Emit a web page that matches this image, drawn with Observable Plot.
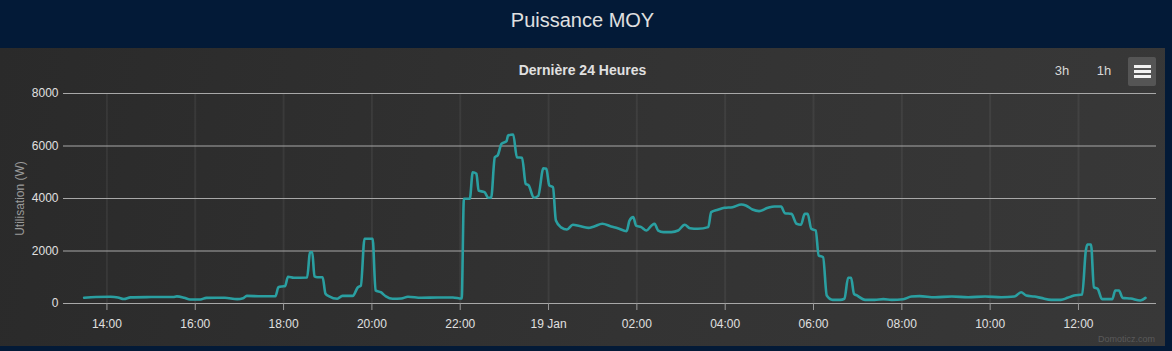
<!DOCTYPE html>
<html><head><meta charset="utf-8">
<script src="https://cdn.jsdelivr.net/npm/d3@7"></script>
<script src="https://cdn.jsdelivr.net/npm/@observablehq/plot@0.6"></script>
<style>
html,body{margin:0;padding:0;}
body{width:1172px;height:351px;background:#031a37;position:relative;overflow:hidden;font-family:"Liberation Sans",Arial,sans-serif;}
#title{position:absolute;left:0;top:0;width:1165px;height:48px;line-height:40px;text-align:center;color:#e0e0e0;font-size:20px;}
#chart{position:absolute;left:0;top:48px;width:1165px;height:298px;background:linear-gradient(100deg,#2a2a2a 0%,#333333 55%,#383838 100%);}
#chart svg{position:absolute;left:0;top:0;}
#sub{position:absolute;left:0;top:14px;width:1165px;text-align:center;font-weight:bold;font-size:14px;line-height:16px;color:#e0e0e0;}
.btn{position:absolute;top:15px;width:24px;text-align:center;font-size:13px;line-height:16px;color:#d8d8d8;}
#menu{position:absolute;left:1128px;top:9px;width:28px;height:29px;background:#555555;border-radius:2px;}
#menu div{position:absolute;left:6px;width:17px;height:2.6px;background:#f2f2f2;}
#credit{position:absolute;right:10px;top:286px;font-size:9px;color:#5a5a5a;}
g[aria-label="y-axis label"]{fill:#9a9a9a;}
</style>
</head><body>
<div id="title">Puissance MOY</div>
<div id="chart">
  <div id="plot"></div>
  <div id="sub">Dernière 24 Heures</div>
  <div class="btn" style="left:1050px">3h</div>
  <div class="btn" style="left:1092px">1h</div>
  <div id="menu"><div style="top:8px"></div><div style="top:13px"></div><div style="top:18px"></div></div>
  <div id="credit">Domoticz.com</div>
</div>
<script>
const times = [
"18 13:29","18 13:45","18 14:05","18 14:15","18 14:23","18 14:32","18 15:00","18 15:30","18 15:35","18 15:45",
"18 15:53","18 16:07","18 16:15","18 16:40","18 16:57","18 17:05","18 17:10","18 17:30","18 17:49","18 17:53",
"18 17:58","18 18:02","18 18:06","18 18:14","18 18:32","18 18:36","18 18:39","18 18:42","18 18:46","18 18:53",
"18 18:57","18 19:02","18 19:13","18 19:20","18 19:34","18 19:41","18 19:45","18 19:50","18 20:01","18 20:05",
"18 20:12","18 20:19","18 20:28","18 20:40","18 20:49","18 21:07","18 21:30","18 21:50","18 22:02","18 22:05",
"18 22:13","18 22:17","18 22:22","18 22:25","18 22:33","18 22:38","18 22:42","18 22:47","18 22:51","18 22:56",
"18 23:03","18 23:05","18 23:12","18 23:17","18 23:24","18 23:29","18 23:33","18 23:40","18 23:46","18 23:53",
"18 23:57","19 00:01","19 00:06","19 00:10","19 00:17","19 00:25","19 00:33","19 00:42","19 00:54","19 01:02",
"19 01:13","19 01:25","19 01:34","19 01:46","19 01:50","19 01:55","19 01:59","19 02:06","19 02:13","19 02:20",
"19 02:24","19 02:29","19 02:36","19 02:47","19 02:56","19 03:05","19 03:12","19 03:23","19 03:37","19 03:41",
"19 03:50","19 03:59","19 04:10","19 04:22","19 04:28","19 04:37","19 04:46","19 04:58","19 05:07","19 05:16",
"19 05:21","19 05:30","19 05:37","19 05:43","19 05:48","19 05:52","19 05:57","19 06:03","19 06:07","19 06:13",
"19 06:18","19 06:26","19 06:36","19 06:42","19 06:47","19 06:51","19 06:55","19 06:59","19 07:10","19 07:23",
"19 07:35","19 07:46","19 08:02","19 08:13","19 08:24","19 08:45","19 09:08","19 09:30","19 09:53","19 10:15",
"19 10:33","19 10:42","19 10:49","19 11:00","19 11:09","19 11:23","19 11:36","19 11:45","19 11:54","19 12:05",
"19 12:10","19 12:12","19 12:17","19 12:21","19 12:26","19 12:32","19 12:46","19 12:50","19 12:55","19 13:00",
"19 13:11","19 13:24","19 13:31"
];
const watts = [
220,250,255,230,170,235,245,250,270,220,
155,155,215,220,165,200,290,275,280,620,
650,660,1020,980,990,1955,1955,1030,1000,1000,
370,270,180,290,290,620,680,2465,2465,500,
430,270,180,190,260,220,230,230,190,3990,
3990,5000,4940,4300,4240,4030,4030,5570,5650,6080,
6190,6400,6440,5570,5550,4560,4500,4030,4100,5150,
5130,4500,4430,3160,2900,2820,3000,2950,2880,2935,
3036,2935,2870,2755,3160,3290,2970,2910,2780,2970,
3036,2780,2720,2720,2780,3000,2870,2845,2910,3480,
3570,3645,3670,3770,3735,3580,3520,3645,3695,3695,
3440,3415,3036,3000,3415,3415,2845,2780,1830,1765,
305,140,140,180,980,980,370,305,140,140,
165,140,165,265,280,240,265,240,265,240,
265,430,305,265,215,140,140,215,305,345,
2020,2250,2250,620,560,165,165,495,495,215,
190,115,215
];
const tickTimes = ["18 14:00","18 16:00","18 18:00","18 20:00","18 22:00","19 00:00","19 02:00","19 04:00","19 06:00","19 08:00","19 10:00","19 12:00"];
const tickLabels = ["14:00","16:00","18:00","20:00","22:00","19 Jan","02:00","04:00","06:00","08:00","10:00","12:00"];
const yTicks = [0,2000,4000,6000,8000];
const xStart = "18 13:01", xEnd = "19 13:46";

const parse = d3.utcParse("%d %H:%M");
const data = times.map((t,i)=>({t: parse(t), w: watts[i]}));
const ticks = tickTimes.map(parse);
const labelOf = new Map(ticks.map((d,i)=>[+d, tickLabels[i]]));

const plot = Plot.plot({
  width:1165, height:298,
  marginLeft:63, marginRight:9, marginTop:45, marginBottom:43,
  style:{background:"transparent", color:"#e0e0e0", fontFamily:"'Liberation Sans', Arial, sans-serif", fontSize:"12px"},
  x:{type:"utc", domain:[parse(xStart), parse(xEnd)]},
  y:{domain:[0,8000]},
  marks:[
    Plot.gridX(ticks,{stroke:"#ffffff", strokeOpacity:0.06, strokeWidth:2}),
    Plot.gridY(yTicks,{stroke:"#a8a8a8", strokeOpacity:1, strokeWidth:1}),
    Plot.axisY(yTicks,{tickSize:0, tickPadding:5, tickFormat:d=>String(d), label:"Utilisation (W)", labelAnchor:"center", labelArrow:"none", labelOffset:48, fill:"#e0e0e0"}),
    Plot.axisX(ticks,{tickSize:7, tickPadding:9, tickFormat:d=>labelOf.get(+d), label:null, stroke:"#9a9a9a", fill:"#e0e0e0"}),
    Plot.line(data,{x:"t", y:"w", stroke:"#2a9fa1", strokeWidth:2.6, curve:"monotone-x"})
  ]
});
document.getElementById("plot").appendChild(plot);
</script>
</body></html>
